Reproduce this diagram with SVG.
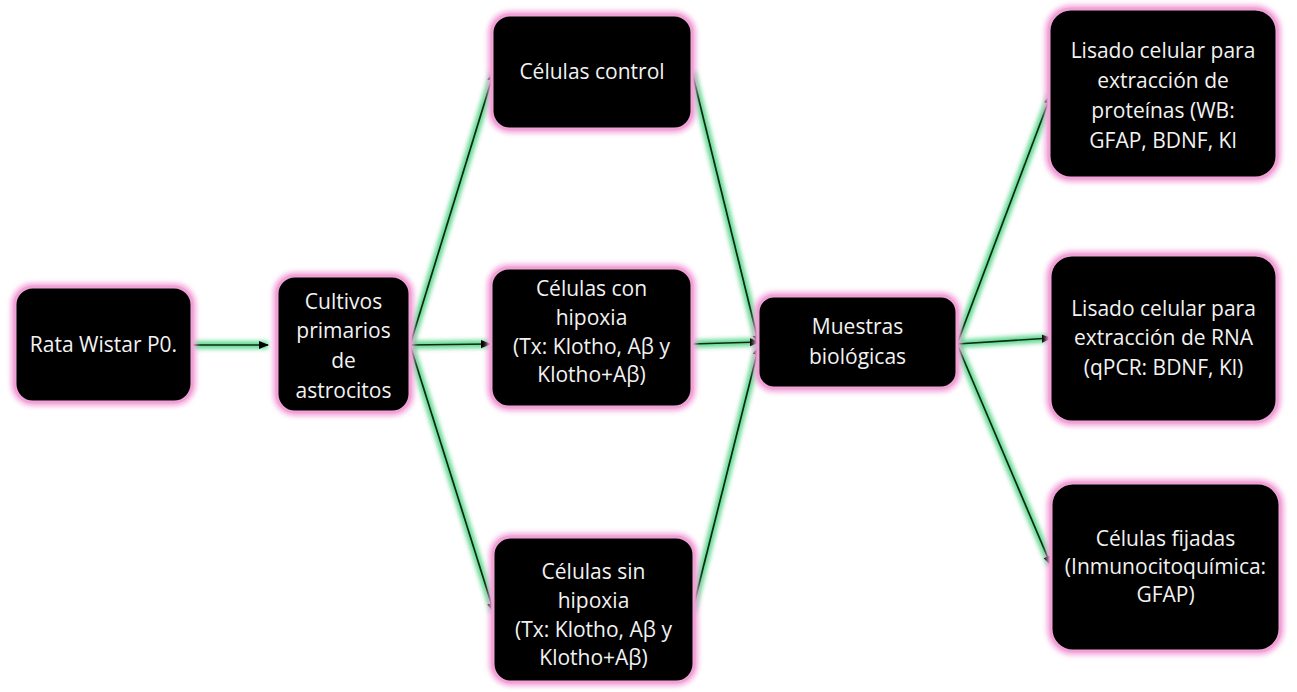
<svg xmlns="http://www.w3.org/2000/svg" width="1297" height="692" viewBox="0 0 1297 692">
<defs>
<filter id="pinkglow" x="-20%" y="-20%" width="140%" height="140%">
<feGaussianBlur stdDeviation="2.5"/>
</filter>
<filter id="greenglow" x="0" y="0" width="1297" height="692" filterUnits="userSpaceOnUse">
<feGaussianBlur stdDeviation="2"/>
</filter>
<marker id="arr" viewBox="0 0 10 10" refX="9" refY="5" markerWidth="6" markerHeight="6" orient="auto" markerUnits="strokeWidth">
<path d="M0,1 L10,5 L0,9 z" fill="#000"/>
</marker>
<style>
.glow{fill:none;stroke:#f4a6dc;stroke-width:8;filter:url(#pinkglow)}
.box{fill:#000;stroke:#f0a2d6;stroke-width:3}
.t{fill:#f2f2f2;font-family:"Open Sans","Noto Sans",sans-serif;font-size:21px;text-anchor:middle}
.g{stroke:#3fcf78;stroke-width:8;fill:none;stroke-opacity:0.8}
.l{stroke:#0a2a12;stroke-width:1.7;fill:none;marker-end:url(#arr)}
</style>
</defs>
<rect width="1297" height="692" fill="#fff"/>

<g id="connectors">
<g filter="url(#greenglow)">
<line class="g" x1="193" y1="345" x2="268" y2="345"/>
<line class="g" x1="410" y1="345" x2="494" y2="72"/>
<line class="g" x1="410" y1="345" x2="490" y2="344"/>
<line class="g" x1="410" y1="345" x2="494" y2="612"/>
<line class="g" x1="692" y1="72" x2="759" y2="344"/>
<line class="g" x1="692" y1="344" x2="759" y2="342"/>
<line class="g" x1="692" y1="612" x2="759" y2="346"/>
<line class="g" x1="957" y1="344" x2="1051" y2="95"/>
<line class="g" x1="957" y1="344" x2="1051" y2="338"/>
<line class="g" x1="957" y1="344" x2="1051" y2="565"/>
</g>
<line class="l" x1="193" y1="345" x2="268" y2="345"/>
<line class="l" x1="410" y1="345" x2="494" y2="72"/>
<line class="l" x1="410" y1="345" x2="490" y2="344"/>
<line class="l" x1="410" y1="345" x2="494" y2="612"/>
<line class="l" x1="692" y1="72" x2="759" y2="344"/>
<line class="l" x1="692" y1="344" x2="759" y2="342"/>
<line class="l" x1="692" y1="612" x2="759" y2="346"/>
<line class="l" x1="957" y1="344" x2="1051" y2="95"/>
<line class="l" x1="957" y1="344" x2="1051" y2="338"/>
<line class="l" x1="957" y1="344" x2="1051" y2="565"/>
</g>

<g id="n-rata">
<rect class="glow" x="15" y="287" width="177" height="115" rx="18"/>
<rect class="box" x="15" y="287" width="177" height="115" rx="18"/>
<text class="t" x="103.5" y="352">Rata Wistar P0.</text>
</g>

<g id="n-cultivos">
<rect class="glow" x="277" y="276" width="133" height="136" rx="18"/>
<rect class="box" x="277" y="276" width="133" height="136" rx="18"/>
<text class="t" x="343.5" y="309">Cultivos</text>
<text class="t" x="343.5" y="338">primarios</text>
<text class="t" x="343.5" y="368">de</text>
<text class="t" x="343.5" y="398">astrocitos</text>
</g>

<g id="n-control">
<rect class="glow" x="492" y="15" width="200" height="114" rx="18"/>
<rect class="box" x="492" y="15" width="200" height="114" rx="18"/>
<text class="t" x="592" y="79">Células control</text>
</g>

<g id="n-con">
<rect class="glow" x="491" y="268" width="201" height="139" rx="18"/>
<rect class="box" x="491" y="268" width="201" height="139" rx="18"/>
<text class="t" x="591.5" y="296">Células con</text>
<text class="t" x="591.5" y="325">hipoxia</text>
<text class="t" x="591.5" y="354">(Tx: Klotho, Aβ y</text>
<text class="t" x="591.5" y="382">Klotho+Aβ)</text>
</g>

<g id="n-sin">
<rect class="glow" x="493" y="537" width="201" height="145" rx="18"/>
<rect class="box" x="493" y="537" width="201" height="145" rx="18"/>
<text class="t" x="593.5" y="579">Células sin</text>
<text class="t" x="593.5" y="608">hipoxia</text>
<text class="t" x="593.5" y="637">(Tx: Klotho, Aβ y</text>
<text class="t" x="593.5" y="665">Klotho+Aβ)</text>
</g>

<g id="n-muestras">
<rect class="glow" x="758" y="296" width="199" height="92" rx="16"/>
<rect class="box" x="758" y="296" width="199" height="92" rx="16"/>
<text class="t" x="857.5" y="334">Muestras</text>
<text class="t" x="857.5" y="364">biológicas</text>
</g>

<g id="n-wb">
<rect class="glow" x="1049" y="9" width="228" height="169" rx="22"/>
<rect class="box" x="1049" y="9" width="228" height="169" rx="22"/>
<text class="t" x="1163" y="58">Lisado celular para</text>
<text class="t" x="1163" y="88">extracción de</text>
<text class="t" x="1163" y="118">proteínas (WB:</text>
<text class="t" x="1163" y="148">GFAP, BDNF, Kl</text>
</g>

<g id="n-rna">
<rect class="glow" x="1050" y="255" width="227" height="167" rx="22"/>
<rect class="box" x="1050" y="255" width="227" height="167" rx="22"/>
<text class="t" x="1163.5" y="316">Lisado celular para</text>
<text class="t" x="1163.5" y="345">extracción de RNA</text>
<text class="t" x="1163.5" y="375">(qPCR: BDNF, Kl)</text>
</g>

<g id="n-fijadas">
<rect class="glow" x="1051" y="483" width="229" height="168" rx="22"/>
<rect class="box" x="1051" y="483" width="229" height="168" rx="22"/>
<text class="t" x="1165.5" y="546">Células fijadas</text>
<text class="t" x="1165.5" y="574">(Inmunocitoquímica:</text>
<text class="t" x="1165.5" y="602">GFAP)</text>
</g>
</svg>
